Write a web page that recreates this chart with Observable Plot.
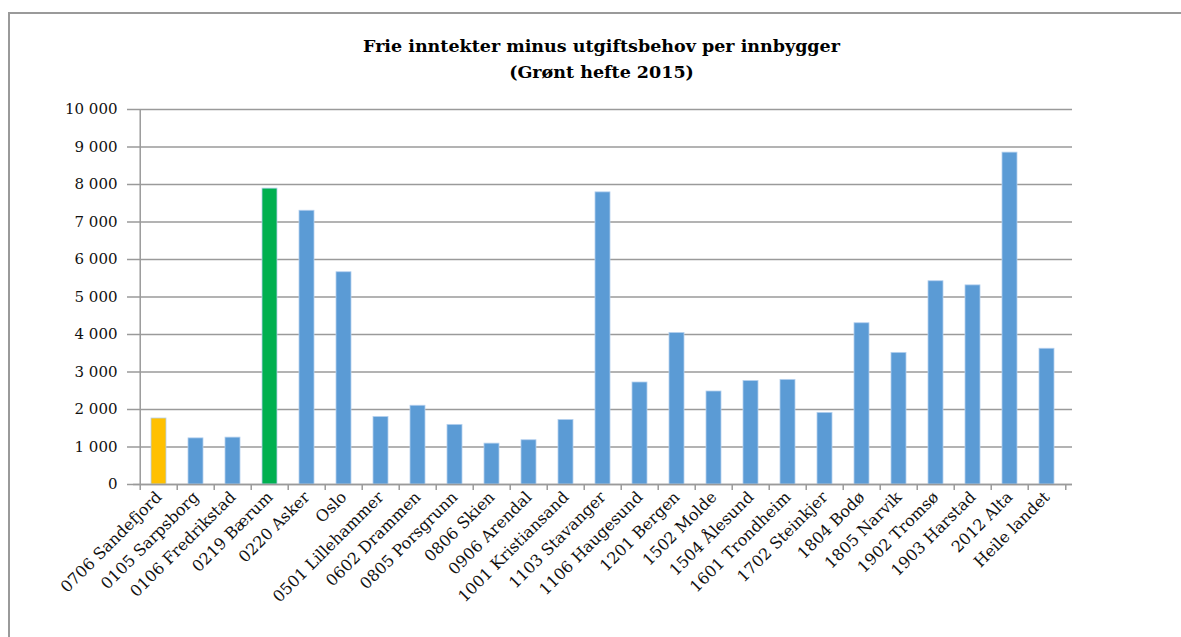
<!DOCTYPE html>
<html>
<head>
<meta charset="utf-8">
<script src="https://cdn.jsdelivr.net/npm/d3@7"></script>
<script src="https://cdn.jsdelivr.net/npm/@observablehq/plot@0.6"></script>
<style>
  html, body { margin: 0; padding: 0; background: #fff; }
  #wrap { position: relative; width: 1181px; height: 637px; overflow: hidden; background: #fff; }
  #frame { position: absolute; left: 8px; top: 12px; width: 1200px; height: 700px;
           border-left: 2px solid #9a9a9a; border-top: 2px solid #9a9a9a; box-sizing: border-box; }
  #title { position: absolute; left: 0; width: 1203px; top: 33px; text-align: center;
           font-family: "DejaVu Serif", serif; font-weight: bold; font-size: 17.5px; line-height: 26px; color: #000; z-index: 2; }
  #chart { position: absolute; left: 0; top: 0; z-index: 1; }
</style>
</head>
<body>
<div id="wrap">
  <div id="chart"></div>
  <div id="frame"></div>
  <div id="title">Frie inntekter minus utgiftsbehov per innbygger<br>(Grønt hefte 2015)</div>
</div>
<script>
const categories = [
  "0706 Sandefjord", "0105 Sarpsborg", "0106 Fredrikstad", "0219 Bærum", "0220 Asker",
  "Oslo", "0501 Lillehammer", "0602 Drammen", "0805 Porsgrunn", "0806 Skien",
  "0906 Arendal", "1001 Kristiansand", "1103 Stavanger", "1106 Haugesund", "1201 Bergen",
  "1502 Molde", "1504 Ålesund", "1601 Trondheim", "1702 Steinkjer", "1804 Bodø",
  "1805 Narvik", "1902 Tromsø", "1903 Harstad", "2012 Alta", "Heile landet"
];
const values = [
  1760, 1230, 1250, 7890, 7300,
  5660, 1800, 2100, 1590, 1090,
  1180, 1720, 7790, 2720, 4040,
  2480, 2760, 2790, 1910, 4300,
  3510, 5420, 5310, 8850, 3620
];
const yTicks = [0, 1000, 2000, 3000, 4000, 5000, 6000, 7000, 8000, 9000, 10000];

const highlight = {"0706 Sandefjord": "#ffc000", "0219 Bærum": "#00b050"};
const defaultFill = "#5b9bd5";

const data = categories.map((c, i) => ({category: c, value: values[i]}));

const W = 1181, H = 637;
const mL = 133, mR = 109, mT = 109, mB = 153;
const step = (W - mL - mR) / categories.length;
const inset = 11;
const fmt = d3.formatLocale({decimal: ",", thousands: " ", grouping: [3]}).format(",");
const font = "DejaVu Serif, serif";

const chart = Plot.plot({
  width: W, height: H,
  marginLeft: mL, marginRight: mR, marginTop: mT, marginBottom: mB,
  style: {fontFamily: font, fontSize: "15px", color: "#111", background: "transparent"},
  x: {domain: categories, padding: 0, label: null},
  y: {domain: [0, 10000], label: null},
  marks: [
    Plot.gridY(yTicks, {stroke: "#9a9a9a", strokeOpacity: 1, strokeWidth: 1.5}),
    Plot.axisY(yTicks, {tickSize: 6, tickPadding: 10, tickFormat: fmt, stroke: "#9a9a9a", strokeWidth: 1.5, fontSize: 15, label: null}),
    Plot.barY(data, {x: "category", y: "value", fill: d => highlight[d.category] ?? defaultFill,
                     insetLeft: inset, insetRight: inset, stroke: "#b4d0ee", strokeWidth: 0.8}),
    Plot.ruleX([categories[0]], {y1: 0, y2: 10000, dx: -step / 2, stroke: "#9a9a9a", strokeWidth: 1.5}),
    Plot.axisX({tickSize: 6, tickFormat: () => "", dx: -step / 2, stroke: "#9a9a9a", strokeWidth: 1.5, label: null}),
    Plot.axisX([categories[categories.length - 1]], {tickSize: 6, tickFormat: () => "", dx: step / 2, stroke: "#9a9a9a", strokeWidth: 1.5, label: null}),
    Plot.axisX({tickSize: 0, tickRotate: -45, tickPadding: 10, fontSize: 16, label: null}),
    Plot.ruleY([0], {stroke: "#9a9a9a", strokeWidth: 1.5})
  ]
});
document.getElementById("chart").appendChild(chart);
</script>
</body>
</html>
